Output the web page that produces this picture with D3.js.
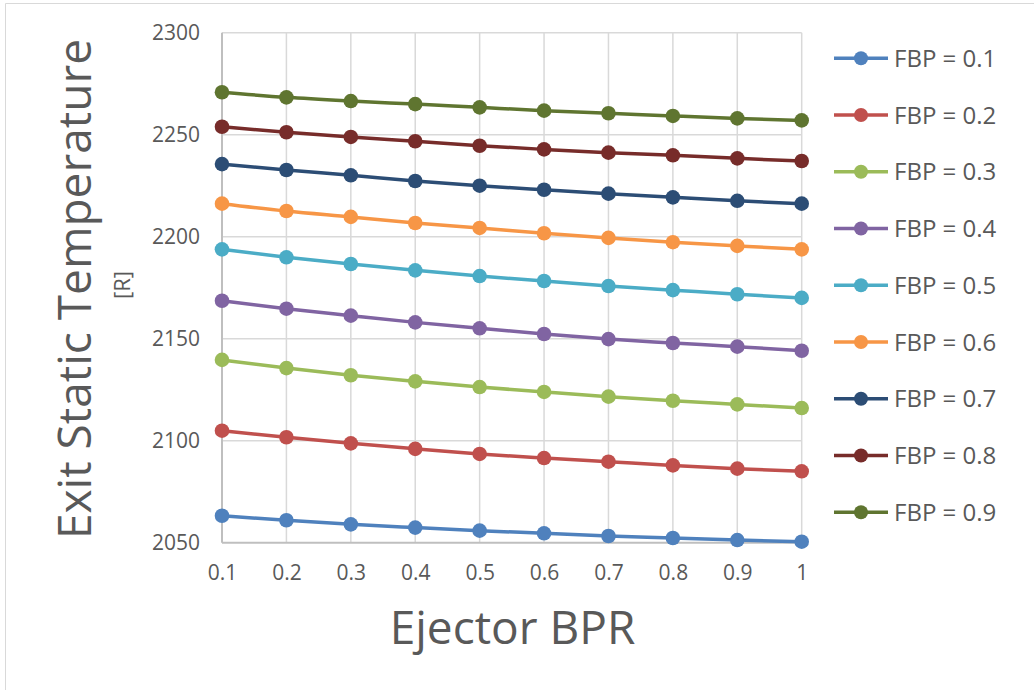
<!DOCTYPE html>
<html lang="en">
    <head>
        <meta charset="UTF-8">
        <title>Exit Static Temperature vs Ejector BPR</title>
        <style>
            body {
                margin: 0;
                background: white;
            }
            text {
                font-family: "Open Sans", sans-serif;
                fill: #595959;
            }
            .grid line {
                stroke: #d9d9d9;
                stroke-width: 1.5;
            }
        </style>
    </head>
    <body>

        <script src="https://d3js.org/d3.v7.min.js"></script>
        <script>

            const svgWidth = 1034;
            const svgHeight = 690;

            // x categories (ejector bypass ratio)
            const bpr = [0.1, 0.2, 0.3, 0.4, 0.5, 0.6, 0.7, 0.8, 0.9, 1];
            const yTicks = [2050, 2100, 2150, 2200, 2250, 2300];

            const seriesNames = ["FBP = 0.1", "FBP = 0.2", "FBP = 0.3", "FBP = 0.4", "FBP = 0.5",
                                 "FBP = 0.6", "FBP = 0.7", "FBP = 0.8", "FBP = 0.9"];
            const colors = ["#4f81bd", "#c0504d", "#9bbb59", "#8064a2", "#4bacc6",
                            "#f79646", "#2c4d75", "#772c2a", "#5f7530"];

            const fbp01 = [2063.2, 2061.0, 2059.0, 2057.4, 2055.9, 2054.6, 2053.3, 2052.3, 2051.3, 2050.5];
            const fbp02 = [2104.9, 2101.7, 2098.7, 2096.0, 2093.5, 2091.5, 2089.7, 2087.9, 2086.3, 2085.0];
            const fbp03 = [2139.6, 2135.6, 2132.1, 2129.1, 2126.3, 2123.9, 2121.6, 2119.6, 2117.8, 2116.0];
            const fbp04 = [2168.6, 2164.7, 2161.3, 2158.0, 2155.1, 2152.3, 2149.8, 2147.9, 2146.1, 2144.1];
            const fbp05 = [2193.8, 2189.9, 2186.6, 2183.5, 2180.7, 2178.3, 2175.8, 2173.8, 2171.8, 2170.0];
            const fbp06 = [2216.2, 2212.6, 2209.7, 2206.7, 2204.3, 2201.7, 2199.4, 2197.3, 2195.5, 2193.8];
            const fbp07 = [2235.6, 2232.7, 2230.1, 2227.3, 2225.0, 2223.0, 2221.1, 2219.3, 2217.6, 2216.2];
            const fbp08 = [2253.9, 2251.2, 2248.9, 2246.8, 2244.6, 2242.8, 2241.2, 2239.9, 2238.4, 2237.1];
            const fbp09 = [2270.8, 2268.3, 2266.5, 2265.0, 2263.4, 2261.8, 2260.5, 2259.2, 2258.0, 2257.0];

            const allSeries = [fbp01, fbp02, fbp03, fbp04, fbp05, fbp06, fbp07, fbp08, fbp09];

            const plot = { left: 222, right: 801.7, top: 32.7, bottom: 542.7 };

            const svg = d3.select("body").append("svg")
            .attr("width", svgWidth)
            .attr("height", svgHeight);

            // chart frame (only left and top edges are visible)
            svg.append("path")
            .attr("d", "M5.5,690 V3.5 H1034")
            .attr("fill", "none")
            .attr("stroke", "#d9d9d9")
            .attr("stroke-width", 1);

            const xScale = d3.scaleLinear()
            .domain([0.1, 1])
            .range([plot.left, plot.right]);

            const yScale = d3.scaleLinear()
            .domain([2050, 2300])
            .range([plot.bottom, plot.top]);

            // gridlines
            const grid = svg.append("g").attr("class", "grid");
            grid.selectAll(".hgrid")
            .data(yTicks.slice(1))
            .enter()
            .append("line")
            .attr("x1", plot.left)
            .attr("x2", plot.right)
            .attr("y1", d => yScale(d))
            .attr("y2", d => yScale(d));

            grid.selectAll(".vgrid")
            .data(bpr.slice(1))
            .enter()
            .append("line")
            .attr("x1", d => xScale(d))
            .attr("x2", d => xScale(d))
            .attr("y1", plot.top)
            .attr("y2", plot.bottom);

            // axis lines
            svg.append("line")
            .attr("x1", plot.left).attr("x2", plot.left)
            .attr("y1", plot.top).attr("y2", plot.bottom)
            .attr("stroke", "#bfbfbf").attr("stroke-width", 2);
            svg.append("line")
            .attr("x1", plot.left).attr("x2", plot.right)
            .attr("y1", plot.bottom).attr("y2", plot.bottom)
            .attr("stroke", "#bfbfbf").attr("stroke-width", 2);

            // axes (labels only)
            const yAxis = svg.append("g")
            .attr("transform", `translate(${plot.left}, 0)`)
            .call(d3.axisLeft(yScale).tickValues(yTicks).tickFormat(d3.format("d")).tickSize(0).tickPadding(22));
            const xAxis = svg.append("g")
            .attr("transform", `translate(0, ${plot.bottom})`)
            .call(d3.axisBottom(xScale).tickValues(bpr).tickFormat(d3.format("")).tickSize(0).tickPadding(22));

            [yAxis, xAxis].forEach(a => {
                a.select(".domain").remove();
                a.selectAll("text")
                .attr("fill", "#595959")
                .style("font-family", "'Open Sans', sans-serif")
                .style("font-size", "21px");
            });

            // series lines and markers
            const line = d3.line()
            .x((d, i) => xScale(bpr[i]))
            .y(d => yScale(d))
            .curve(d3.curveMonotoneX);

            const groups = svg.selectAll(".series")
            .data(allSeries)
            .enter()
            .append("g")
            .attr("class", "series");

            groups.append("path")
            .attr("d", d => line(d))
            .attr("fill", "none")
            .attr("stroke", (d, i) => colors[i])
            .attr("stroke-width", 3.5);

            groups.each(function (vals, si) {
                d3.select(this).selectAll("circle")
                .data(vals)
                .enter()
                .append("circle")
                .attr("cx", (d, i) => xScale(bpr[i]))
                .attr("cy", d => yScale(d))
                .attr("r", 7.3)
                .attr("fill", colors[si]);
            });

            // legend
            const legend = svg.append("g")
            .selectAll("g")
            .data(seriesNames)
            .enter()
            .append("g")
            .attr("transform", (d, i) => `translate(834, ${58.3 + i * 56.75})`);

            legend.append("line")
            .attr("x1", 0).attr("x2", 54)
            .attr("y1", 0).attr("y2", 0)
            .attr("stroke", (d, i) => colors[i])
            .attr("stroke-width", 3.5);
            legend.append("circle")
            .attr("cx", 27).attr("cy", 0)
            .attr("r", 7)
            .attr("fill", (d, i) => colors[i]);
            legend.append("text")
            .attr("x", 60)
            .attr("y", 8.5)
            .style("font-size", "24px")
            .text(d => d);

            // axis titles
            svg.append("text")
            .attr("x", 512.5)
            .attr("y", 644)
            .attr("text-anchor", "middle")
            .style("font-size", "46px")
            .text("Ejector BPR");

            svg.append("text")
            .attr("transform", "translate(91, 289) rotate(-90)")
            .attr("text-anchor", "middle")
            .style("font-size", "46px")
            .text("Exit Static Temperature");

            svg.append("text")
            .attr("transform", "translate(130, 285) rotate(-90)")
            .attr("text-anchor", "middle")
            .style("font-size", "22px")
            .text("[R]");

        </script>
    </body>
</html>
